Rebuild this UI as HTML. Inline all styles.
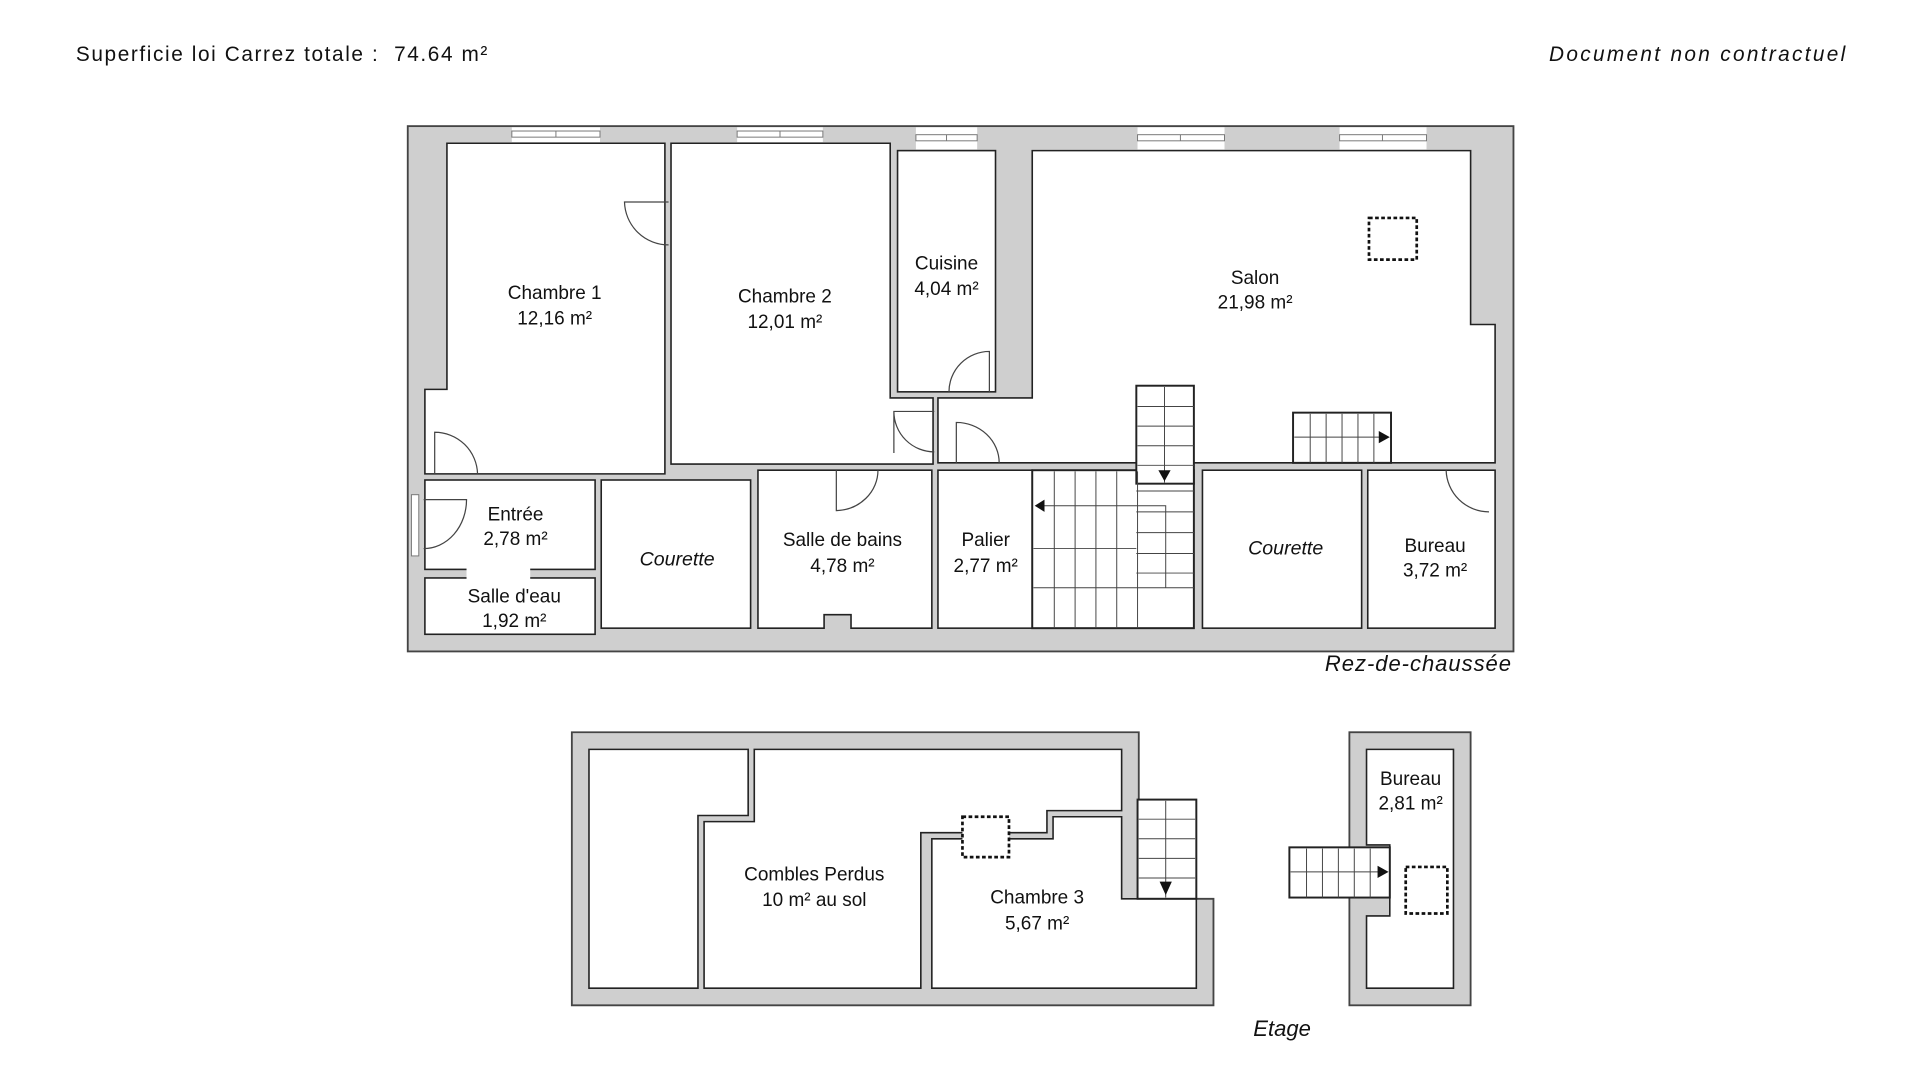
<!DOCTYPE html>
<html><head><meta charset="utf-8"><style>
html,body{margin:0;padding:0;background:#fff;}
svg{display:block;}
text{font-family:"Liberation Sans",sans-serif;fill:#111;}
</style></head><body>
<svg width="1920" height="1080" viewBox="0 0 1568 882" preserveAspectRatio="none" xmlns="http://www.w3.org/2000/svg">
<rect width="1568" height="882" fill="#fff"/>
<text x="62" y="50" font-size="17" textLength="336" lengthAdjust="spacing" xml:space="preserve">Superficie loi Carrez totale :  74.64 m²</text>
<text x="1265" y="50" font-size="17" font-style="italic" textLength="242" lengthAdjust="spacing">Document non contractuel</text>

<!-- Ground floor -->
<rect x="333" y="103" width="903" height="429" fill="#cfcfcf" stroke="#444" stroke-width="1.5"/>
<g fill="#fff" stroke="#222" stroke-width="1.3">
<polygon points="365,117 543,117 543,387 347,387 347,318 365,318"/>
<polygon points="548,117 727,117 727,325 762,325 762,379 548,379"/>
<rect x="733" y="123" width="80" height="197"/>
<polygon points="843,123 1201,123 1201,265 1221,265 1221,378 766,378 766,325 843,325"/>
<rect x="347" y="392" width="139" height="73"/>
<rect x="347" y="472" width="139" height="46"/>
<rect x="491" y="392" width="122" height="121"/>
<polygon points="619,384 761,384 761,513 695,513 695,502 673,502 673,513 619,513"/>
<rect x="766" y="384" width="77" height="129"/>
<rect x="982" y="384" width="130" height="129"/>
<rect x="1117" y="384" width="104" height="129"/>
</g>
<rect x="381" y="464" width="52" height="9" fill="#fff"/>
<!-- windows -->
<g fill="#fff" stroke="#777" stroke-width="0.8">
<rect x="418" y="104" width="72" height="12" stroke="none"/><rect x="418" y="107" width="72" height="5"/><line x1="454" y1="107" x2="454" y2="112"/>
<rect x="602" y="104" width="70" height="12" stroke="none"/><rect x="602" y="107" width="70" height="5"/><line x1="637" y1="107" x2="637" y2="112"/>
<rect x="748" y="104" width="50" height="18" stroke="none"/><rect x="748" y="110" width="50" height="5"/><line x1="773" y1="110" x2="773" y2="115"/>
<rect x="929" y="104" width="71" height="18" stroke="none"/><rect x="929" y="110" width="71" height="5"/><line x1="964" y1="110" x2="964" y2="115"/>
<rect x="1094" y="104" width="71" height="18" stroke="none"/><rect x="1094" y="110" width="71" height="5"/><line x1="1129" y1="110" x2="1129" y2="115"/>
<rect x="336" y="404" width="6" height="50"/>
</g>
<!-- doors -->
<g fill="none" stroke="#444" stroke-width="1">
<path d="M546,165 L510,165 A36,36 0 0 0 546,200"/>
<path d="M355,387 L355,353 A35,35 0 0 1 390,387"/>
<path d="M346,408 L381,408 A35,40 0 0 1 346,448"/>
<path d="M808,320 L808,287 A33,33 0 0 0 775,320"/>
<path d="M763,336 L730,336 A33,33 0 0 0 763,369 M730,336 L730,370"/>
<path d="M781,378 L781,345 A35,33 0 0 1 816,378"/>
<path d="M683,384 L683,417 A35,33 0 0 0 717,384"/>
<path d="M1181,384 L1181,384 A35,35 0 0 0 1216,418"/>
</g>
<!-- stairs -->
<g fill="#fff" stroke="#222" stroke-width="1.6">
<rect x="843" y="384" width="132" height="129"/>
<rect x="928" y="315" width="47" height="80"/>
<rect x="1056" y="337" width="80" height="41"/>
</g>
<g stroke="#444" stroke-width="0.8" fill="none">
<path d="M861,385V513 M878,385V513 M895,385V513 M912,385V513 M929,385V513"/>
<path d="M844,448H928 M844,480H975 M928,401H975 M928,418H975 M928,435H975 M928,452H975 M928,468H975"/>
<polyline points="847,413 952,413 952,480"/>
<path d="M951,316V394 M929,332H975 M929,348H975 M929,364H975 M929,380H975"/>
<path d="M1070,338V378 M1083,338V378 M1096,338V378 M1109,338V378 M1122,338V378 M1057,357H1130"/>
</g>
<polygon points="845,413 853,408 853,418" fill="#111"/>
<polygon points="946,384 956,384 951,393" fill="#111"/>
<polygon points="1126,352 1126,362 1135,357" fill="#111"/>
<rect x="1118" y="178" width="39" height="34" fill="none" stroke="#111" stroke-width="2.2" stroke-dasharray="3,2"/>

<!-- Etage -->
<polygon points="467,598 930,598 930,734 991,734 991,821 467,821" fill="#cfcfcf" stroke="#444" stroke-width="1.5"/>
<g fill="#fff" stroke="#222" stroke-width="1.3">
<polygon points="481,612 611,612 611,666 570,666 570,807 481,807"/>
<polygon points="616,612 916,612 916,662 855,662 855,680 752,680 752,807 575,807 575,671 616,671"/>
<polygon points="761,685 860,685 860,667 916,667 916,734 977,734 977,807 761,807"/>
</g>
<rect x="929" y="653" width="48" height="81" fill="#fff" stroke="#222" stroke-width="1.6"/>
<g stroke="#444" stroke-width="0.8"><path d="M952,654V733 M930,669H976 M930,685H976 M930,701H976 M930,717H976"/></g>
<polygon points="947,720 957,720 952,731" fill="#111"/>
<rect x="786" y="667" width="38" height="33" fill="#fff" stroke="#111" stroke-width="2.2" stroke-dasharray="3,2"/>

<rect x="1102" y="598" width="99" height="223" fill="#cfcfcf" stroke="#444" stroke-width="1.5"/>
<polygon points="1116,612 1187,612 1187,807 1116,807 1116,748 1135,748 1135,690 1116,690" fill="#fff" stroke="#222" stroke-width="1.3"/>
<rect x="1053" y="692" width="82" height="41" fill="#fff" stroke="#222" stroke-width="1.6"/>
<g stroke="#444" stroke-width="0.8"><path d="M1067,693V733 M1080,693V733 M1093,693V733 M1106,693V733 M1119,693V733 M1054,712H1128"/></g>
<polygon points="1125,707 1125,717 1134,712" fill="#111"/>
<rect x="1148" y="708" width="34" height="38" fill="#fff" stroke="#111" stroke-width="2.2" stroke-dasharray="3,2"/>

<g font-size="15.5" text-anchor="middle">
<text x="453" y="244">Chambre 1</text><text x="453" y="265">12,16 m²</text>
<text x="641" y="247">Chambre 2</text><text x="641" y="268">12,01 m²</text>
<text x="773" y="220">Cuisine</text><text x="773" y="241">4,04 m²</text>
<text x="1025" y="232">Salon</text><text x="1025" y="252">21,98 m²</text>
<text x="421" y="425">Entrée</text><text x="421" y="445">2,78 m²</text>
<text x="420" y="492">Salle d'eau</text><text x="420" y="512">1,92 m²</text>
<text x="688" y="446">Salle de bains</text><text x="688" y="467">4,78 m²</text>
<text x="805" y="446">Palier</text><text x="805" y="467">2,77 m²</text>
<text x="1172" y="451">Bureau</text><text x="1172" y="471">3,72 m²</text>
<text x="553" y="462" font-style="italic" font-size="16">Courette</text>
<text x="1050" y="453" font-style="italic" font-size="16">Courette</text>
<text x="1152" y="641">Bureau</text><text x="1152" y="661">2,81 m²</text>
<text x="665" y="719">Combles Perdus</text><text x="665" y="740">10 m² au sol</text>
<text x="847" y="738">Chambre 3</text><text x="847" y="759">5,67 m²</text>
</g>
<text x="1082" y="548" font-size="18" font-style="italic" textLength="152" lengthAdjust="spacing">Rez-de-chaussée</text>
<text x="1047" y="846" font-size="18" font-style="italic" text-anchor="middle">Etage</text>
</svg>
</body></html>
